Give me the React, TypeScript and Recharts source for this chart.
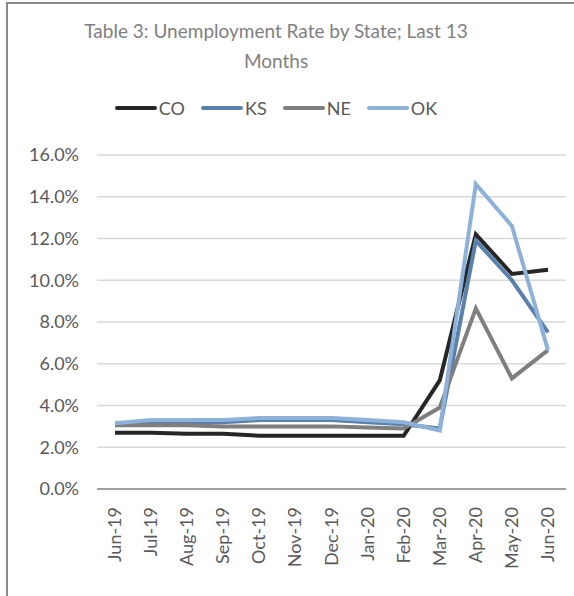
import React from 'react';
import { LineChart, Line, XAxis, YAxis, CartesianGrid } from 'recharts';

const months = ['Jun-19','Jul-19','Aug-19','Sep-19','Oct-19','Nov-19','Dec-19','Jan-20','Feb-20','Mar-20','Apr-20','May-20','Jun-20'];
const co = [2.7, 2.7, 2.65, 2.65, 2.55, 2.55, 2.55, 2.55, 2.55, 5.2, 12.2, 10.3, 10.5];
const ks = [3.15, 3.2, 3.2, 3.2, 3.3, 3.3, 3.3, 3.2, 3.1, 2.9, 11.9, 10.0, 7.5];
const ne = [3.05, 3.05, 3.05, 3.0, 3.0, 3.0, 3.0, 2.95, 2.9, 3.9, 8.65, 5.3, 6.65];
const ok = [3.15, 3.3, 3.3, 3.3, 3.4, 3.4, 3.4, 3.3, 3.2, 2.8, 14.6, 12.6, 6.65];
const yTicks = [0, 2, 4, 6, 8, 10, 12, 14, 16];

const series = [
  { key: 'CO', color: '#262626' },
  { key: 'KS', color: '#5a80ad' },
  { key: 'NE', color: '#7f7f7f' },
  { key: 'OK', color: '#8db1d9' },
];

const data = months.map((m, i) => ({ month: m, CO: co[i], KS: ks[i], NE: ne[i], OK: ok[i] }));

const FONT = 'Lato, sans-serif';

const XTick = (props: any) => {
  const { x, y, payload } = props;
  return (
    <text x={x + 6} y={y + 10} transform={`rotate(-90 ${x + 6} ${y + 10})`} textAnchor="end"
      fill="#595959" fontSize={18} fontFamily={FONT}>{payload.value}</text>
  );
};

export default function App() {
  return (
    <div style={{ position: 'absolute', left: 0, top: 0, width: 574, height: 596, background: '#fff', overflow: 'hidden' }}>
      <div style={{ position: 'absolute', left: 6, top: 2, width: 700, height: 700, borderLeft: '2px solid #8a8a8a', borderTop: '2px solid #8a8a8a' }} />
      <div style={{ position: 'absolute', left: 0, top: 16, width: 552, textAlign: 'center', fontFamily: FONT, fontSize: 19, lineHeight: '30px', color: '#7f7f7f' }}>
        Table 3: Unemployment Rate by State; Last 13<br />Months
      </div>
      <div style={{ position: 'absolute', left: 0, top: 97, width: 552, display: 'flex', justifyContent: 'center', fontFamily: FONT, fontSize: 18, color: '#595959' }}>
        {series.map((s, i) => (
          <div key={s.key} style={{ display: 'flex', alignItems: 'center', marginRight: i < series.length - 1 ? 16 : 0 }}>
            <div style={{ width: 42, height: 4, background: s.color, borderRadius: 2, marginRight: 2 }} />
            <span>{s.key}</span>
          </div>
        ))}
      </div>
      <div style={{ position: 'absolute', left: 0, top: 0 }}>
        <LineChart width={574} height={596} data={data} margin={{ top: 155, right: 8, bottom: 7, left: 10 }}>
          <CartesianGrid vertical={false} stroke="#d9d9d9" strokeWidth={1.5} />
          <XAxis dataKey="month" interval={0} height={100} tick={<XTick />} tickLine={false}
            padding={{ left: 18, right: 18 }}
            axisLine={{ stroke: '#8a8a8a', strokeWidth: 1.5 }} />
          <YAxis domain={[0, 16]} ticks={yTicks} width={87} axisLine={false} tickLine={false}
            tickFormatter={(v: number) => v.toFixed(1) + '%'}
            tick={{ fill: '#595959', fontSize: 18, fontFamily: FONT }} tickMargin={12} />
          {series.map((s) => (
            <Line key={s.key} type="linear" dataKey={s.key} stroke={s.color} strokeWidth={4}
              dot={false} isAnimationActive={false} />
          ))}
        </LineChart>
      </div>
    </div>
  );
}
